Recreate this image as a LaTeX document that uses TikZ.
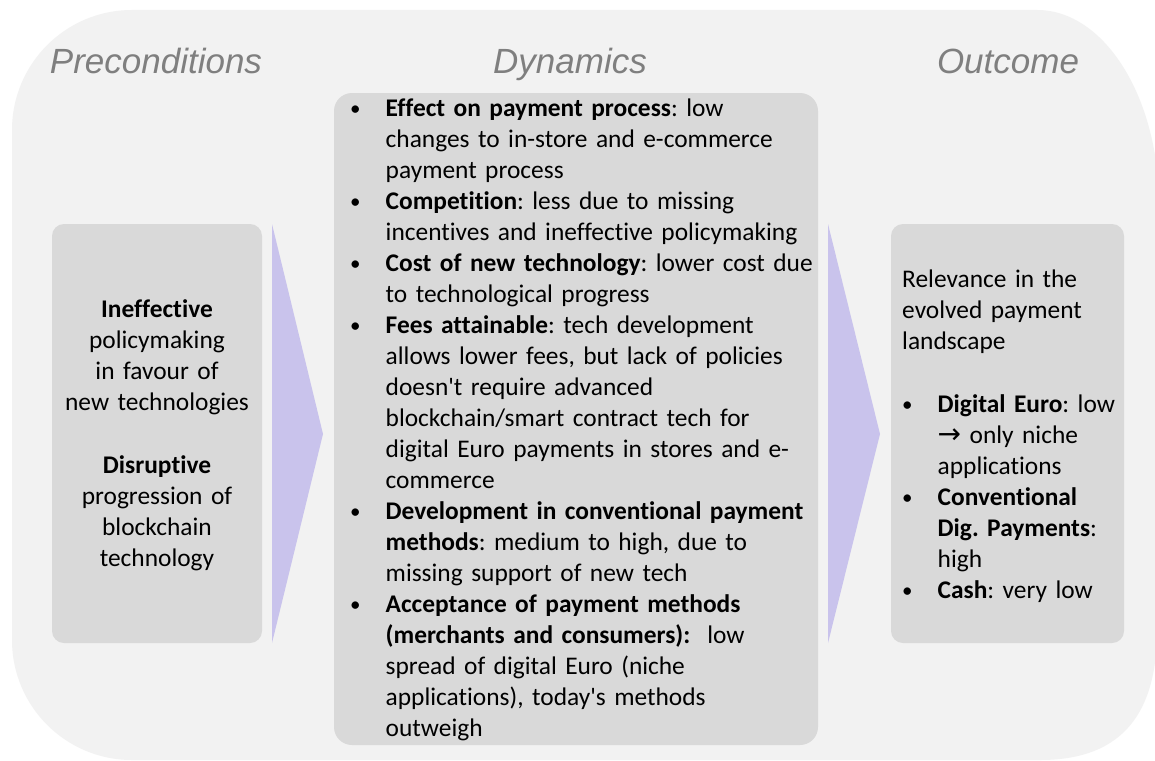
\documentclass[tikz,border=0pt]{standalone}
\usepackage{fontspec}
\setmainfont[Ligatures=NoCommon]{Carlito}
\newfontfamily\headfont{Liberation Sans}
\newfontfamily\symfont{DejaVu Sans}
\frenchspacing

\definecolor{panelgray}{HTML}{F2F2F2}
\definecolor{boxgray}{HTML}{D9D9D9}
\definecolor{chevronfill}{HTML}{C9C3EC}
\definecolor{headgray}{HTML}{7F7F7F}

\newcommand*{\boxtop}{224}
\newcommand*{\boxbot}{643}
\newcommand*{\arrowmid}{434}
\newcommand*{\bul}{\makebox[35.5pt][l]{\raisebox{1pt}{\fontsize{21}{31}\selectfont\textbullet}}}
\newcommand*{\ind}{\hspace*{35.5pt}}

\begin{document}
\begin{tikzpicture}
[
	head/.style={anchor=base,font=\headfont\itshape\fontsize{35}{40}\selectfont,text=headgray},
	bodytext/.style={inner sep=0pt,align=left,text width=#1,font=\fontsize{25.4}{31}\selectfont},
	chevron/.style={fill=chevronfill},
	x=1pt,
	y=-1pt
]

	\useasboundingbox[fill=white] (0,0) rectangle (1155,760);
	\clip (0,0) rectangle (1155,760);

	% background panel
	\fill[panelgray] (12,130) .. controls (12,63.7) and (65.7,10) .. (132,10)
		-- (1037,10) .. controls (1104.4,10) and (1159,97.3) .. (1159,205)
		-- (1157,630) .. controls (1157,710) and (1125,760) .. (1040,760)
		-- (132,760) .. controls (65.7,760) and (12,706.3) .. (12,640) -- cycle;

	% column titles
	\node[head] (pre) at (156,73) {Preconditions};
	\node[head] (dyn) at (570,73) {Dynamics};
	\node[head] (out) at (1008,73) {Outcome};

	% boxes
	\fill[boxgray,rounded corners=12pt] (52,\boxtop) rectangle (262,\boxbot);
	\fill[boxgray,rounded corners=18pt] (334,93) rectangle (818,745);
	\fill[boxgray,rounded corners=12pt] (891,\boxtop) rectangle (1124,\boxbot);

	% arrows
	\fill[chevron] (272,\boxtop) -- (323,\arrowmid) -- (272,\boxbot) -- cycle;
	\fill[chevron] (828,\boxtop) -- (880,\arrowmid) -- (828,\boxbot) -- cycle;

	% preconditions
	\node[inner sep=0pt,anchor=north,align=center,text width=210pt,font=\fontsize{25.4}{31}\selectfont] (prec) at (157,295.3)
		{\strut\textbf{Ineffective}\\ policymaking\\ in favour of\\ new technologies\\[32pt]
		\textbf{Disruptive}\\ progression of\\ blockchain\\ technology};

	% dynamics
	\node[bodytext=480pt,anchor=north west] (dynl) at (350,94.3)
		{\strut\bul\textbf{Effect on payment process}: low\\
		\ind changes to in-store and e-commerce\\
		\ind payment process\\
		\bul\textbf{Competition}: less due to missing\\
		\ind incentives and ineffective policymaking\\
		\bul\textbf{Cost of new technology}: lower cost due\\
		\ind to technological progress\\
		\bul\textbf{Fees attainable}: tech development\\
		\ind allows lower fees, but lack of policies\\
		\ind doesn\textquotesingle t require advanced\\
		\ind blockchain/smart contract tech for\\
		\ind digital Euro payments in stores and e-\\
		\ind commerce\\
		\bul\textbf{Development in conventional payment}\\
		\ind\textbf{methods}: medium to high, due to\\
		\ind missing support of new tech\\
		\bul\textbf{Acceptance of payment methods}\\
		\ind\textbf{(merchants and consumers):}\ \ low\\
		\ind spread of digital Euro (niche\\
		\ind applications), today\textquotesingle s methods\\
		\ind outweigh};

	% outcome
	\node[bodytext=250pt,anchor=north west] (outl) at (902,265.3)
		{\strut Relevance in the\\ evolved payment\\ landscape\\[32pt]
		\bul\textbf{Digital Euro}: low\\
		\ind{\symfont\fontsize{28}{31}\selectfont →} only niche\\
		\ind applications\\
		\bul\textbf{Conventional}\\
		\ind\textbf{Dig. Payments}:\\
		\ind high\\
		\bul\textbf{Cash}: very low};

\end{tikzpicture}
\end{document}
